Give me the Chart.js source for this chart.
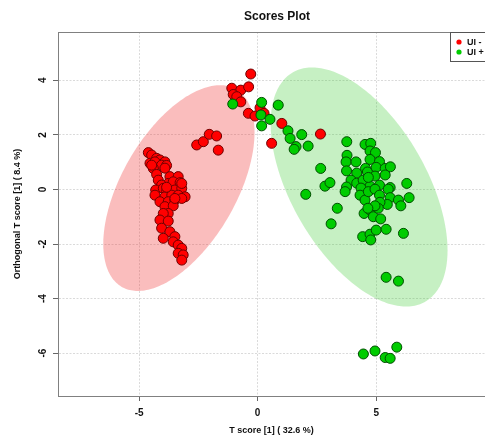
<!DOCTYPE html>
<html><head><meta charset="utf-8">
<script src="https://cdn.jsdelivr.net/npm/chart.js@4/dist/chart.umd.min.js"></script>
<style>html,body{margin:0;padding:0;background:#fff;}canvas{display:block;}</style>
</head><body>
<canvas id="c" width="485" height="436"></canvas>
<script>
const chartTitle = 'Scores Plot';
const xTitle = 'T score [1] ( 32.6 %)';
const yTitle = 'Orthogonal T score [1] ( 8.4 %)';
const seriesLabels = ['UI -', 'UI +'];
const xTicks = [-5, 0, 5];
const yTicks = [-6, -4, -2, 0, 2, 4];

const uiMinusX = [-4.61,-4.47,-4.26,-4.12,-3.91,-4.54,-4.33,-4.05,-3.84,-4.40,-3.91,-4.26,-4.19,-3.70,-3.35,-3.77,-3.56,-3.27,-4.05,-4.30,-3.98,-3.84,-3.49,-3.20,-4.33,-3.91,-3.62,-3.35,-3.06,-4.12,-3.77,-3.49,-3.20,-3.91,-3.56,-3.77,-3.98,-4.12,-3.77,-4.05,-3.70,-3.98,-3.49,-3.56,-3.35,-3.20,-3.35,-3.14,-3.20,-4.47,-3.20,-3.84,-3.49,
  -2.57,-2.29,-2.04,-1.73,-1.66,
  -0.29,-1.09,-0.71,-0.38,-1.03,-0.88,-0.71,-0.39,-0.11,0.10,0.27,1.02,0.59,2.65];
const uiMinusY = [1.35,1.26,1.14,1.08,1.01,0.96,1.01,0.89,0.88,0.77,0.78,0.55,0.34,0.47,0.47,0.22,0.28,0.25,0.16,-0.02,0.04,-0.08,-0.02,0.04,-0.21,-0.27,-0.21,-0.21,-0.27,-0.45,-0.45,-0.39,-0.33,-0.63,-0.60,-0.88,-0.88,-1.12,-1.16,-1.42,-1.55,-1.79,-1.73,-1.92,-2.04,-2.16,-2.34,-2.40,-2.59,0.89,0.22,0.08,-0.33,
  1.63,1.75,2.02,1.96,1.44,
  4.23,3.71,3.64,3.76,3.48,3.40,3.21,2.79,2.69,2.99,2.79,2.42,1.69,2.03];

const uiPlusX = [-1.05,0.17,0.87,0.14,0.52,0.17,1.28,1.86,1.37,2.13,1.62,1.54,
  3.76,4.53,4.77,4.74,4.97,3.77,3.73,4.15,4.74,5.14,2.66,3.75,4.18,4.55,4.63,5.00,5.38,5.60,4.95,5.38,6.29,3.94,4.18,4.45,2.84,3.05,4.74,5.14,5.59,4.67,3.75,4.36,3.69,4.32,4.53,4.67,4.95,5.14,5.51,5.59,5.94,6.39,6.04,5.47,5.16,2.03,3.36,3.10,4.49,4.74,4.88,5.09,5.19,4.95,4.65,4.43,4.74,5.00,5.42,6.15,4.77,
  5.42,5.94,4.46,4.95,5.38,5.59,5.87];
const uiPlusY = [3.13,3.19,3.09,2.73,2.57,2.33,2.15,2.01,1.87,1.59,1.57,1.47,
  1.75,1.65,1.69,1.41,1.35,1.25,1.01,1.01,1.10,1.02,0.77,0.68,0.60,0.77,0.64,0.81,0.77,0.83,0.49,0.53,0.22,0.34,0.23,0.34,0.12,0.25,0.12,0.16,0.07,0.44,0.09,0.05,-0.08,-0.21,-0.39,-0.08,0.01,-0.21,0.01,-0.30,-0.39,-0.30,-0.60,-0.55,-0.47,-0.18,-0.69,-1.26,-0.88,-0.75,-1.00,-0.69,-1.08,-0.60,-0.69,-1.73,-1.64,-1.49,-1.46,-1.61,-1.85,
  -3.22,-3.36,-6.03,-5.92,-6.16,-6.19,-5.78];

// confidence ellipses (data units): centre, half-extent in x and y, correlation
const ellipseCx = [-3.32, 4.28];
const ellipseCy = [0.05, 0.09];
const ellipseSx = [3.19, 3.73];
const ellipseSy = [3.77, 4.38];
const ellipseRho = [0.543, -0.531];

const FONT = '"Liberation Sans", Arial, Helvetica, sans-serif';
const ellipseFill = ['rgba(240,50,50,0.32)', 'rgba(50,200,40,0.28)'];
const pointFill = ['#ff0000', '#00cc00'];
const pointEdge = ['#6e0000', '#004d00'];

const toPts = (xs, ys) => xs.map((v, i) => ({x: v, y: ys[i]}));

const rPlot = {
  id: 'rPlot',
  beforeDatasetsDraw(chart) {
    const {ctx, chartArea: a, scales: {x, y}} = chart;
    ctx.save();
    ctx.beginPath(); ctx.rect(a.left, a.top, a.right - a.left, a.bottom - a.top); ctx.clip();
    for (let k = 0; k < ellipseCx.length; k++) {
      const r = ellipseRho[k], q = Math.sqrt(1 - r * r);
      ctx.beginPath();
      for (let i = 0; i <= 240; i++) {
        const t = i / 240 * 2 * Math.PI, u = Math.cos(t), v = Math.sin(t);
        const px = x.getPixelForValue(ellipseCx[k] + ellipseSx[k] * u);
        const py = y.getPixelForValue(ellipseCy[k] + ellipseSy[k] * (r * u + q * v));
        if (i) ctx.lineTo(px, py); else ctx.moveTo(px, py);
      }
      ctx.closePath();
      ctx.fillStyle = ellipseFill[k];
      ctx.fill();
    }
    ctx.restore();
  },
  afterDraw(chart) {
    const {ctx, chartArea: a} = chart;
    ctx.save();
    // top of the plot box
    ctx.strokeStyle = '#808080'; ctx.lineWidth = 1;
    ctx.beginPath(); ctx.moveTo(a.left, a.top + 0.5); ctx.lineTo(a.right, a.top + 0.5); ctx.stroke();
    // main title
    ctx.fillStyle = '#111';
    ctx.font = 'bold 12px ' + FONT;
    ctx.textAlign = 'center'; ctx.textBaseline = 'middle';
    ctx.fillText(chartTitle, 277, 17);
    // legend (top-right, inside plot)
    const lx = 450, ly = a.top;
    ctx.fillStyle = '#fff';
    ctx.fillRect(lx, ly, a.right - lx + 5, 30);
    ctx.strokeStyle = '#555';
    ctx.strokeRect(lx + 0.5, ly + 0.5, a.right - lx + 5, 29);
    chart.data.datasets.slice().sort((p, q) => p.legendIndex - q.legendIndex).forEach((ds, i) => {
      const cy = ly + 10 + i * 10;
      ctx.fillStyle = ds.backgroundColor;
      ctx.beginPath(); ctx.arc(lx + 9, cy, 2.6, 0, 2 * Math.PI); ctx.fill();
      ctx.fillStyle = '#111';
      ctx.font = 'bold 9px ' + FONT;
      ctx.textAlign = 'left';
      ctx.fillText(ds.label, lx + 17, cy + 0.5);
    });
    ctx.restore();
  }
};

new Chart(document.getElementById('c'), {
  type: 'scatter',
  data: {
    datasets: [
      {label: seriesLabels[1], legendIndex: 1, order: 0, data: toPts(uiPlusX, uiPlusY),
       backgroundColor: pointFill[1], borderColor: pointEdge[1], borderWidth: 1, pointRadius: 5},
      {label: seriesLabels[0], legendIndex: 0, order: 1, data: toPts(uiMinusX, uiMinusY),
       backgroundColor: pointFill[0], borderColor: pointEdge[0], borderWidth: 1, pointRadius: 5}
    ]
  },
  options: {
    responsive: false,
    animation: false,
    devicePixelRatio: 1,
    layout: {autoPadding: false, padding: {top: 32, left: 0, right: 0, bottom: 0}},
    plugins: {legend: {display: false}, tooltip: {enabled: false}, title: {display: false}},
    scales: {
      x: {
        type: 'linear', min: -8.42, max: 9.59,
        afterBuildTicks: s => { s.ticks = xTicks.map(v => ({value: v})); },
        afterFit: s => { s.height = 40; s.paddingLeft = 0; s.paddingRight = 0; },
        grid: {color: '#dadada', lineWidth: 1, tickColor: '#666', tickLength: 5, tickWidth: 1, tickBorderDash: []},
        border: {color: '#808080', width: 1, dash: [2, 1.5]},
        ticks: {color: '#111', font: {family: FONT, size: 10, weight: 'bold'}, padding: 6, maxRotation: 0, minRotation: 0},
        title: {display: true, text: xTitle, color: '#111', font: {family: FONT, size: 9, weight: 'bold'}, padding: {top: 0, bottom: 0}}
      },
      y: {
        type: 'linear', min: -7.57, max: 5.77,
        afterBuildTicks: s => { s.ticks = yTicks.map(v => ({value: v})); },
        afterFit: s => { s.width = 58; s.paddingTop = 0; s.paddingBottom = 0; },
        grid: {color: '#dadada', lineWidth: 1, tickColor: '#666', tickLength: 5, tickWidth: 1, tickBorderDash: []},
        border: {color: '#808080', width: 1, dash: [2, 1.5]},
        ticks: {color: '#111', font: {family: FONT, size: 10, weight: 'bold'}, padding: 5, minRotation: 90, maxRotation: 90, crossAlign: 'center'},
        title: {display: true, text: yTitle, color: '#111', font: {family: FONT, size: 9, weight: 'bold'}, padding: {top: 12, bottom: 0}}
      }
    }
  },
  plugins: [rPlot]
});
</script>
</body></html>
